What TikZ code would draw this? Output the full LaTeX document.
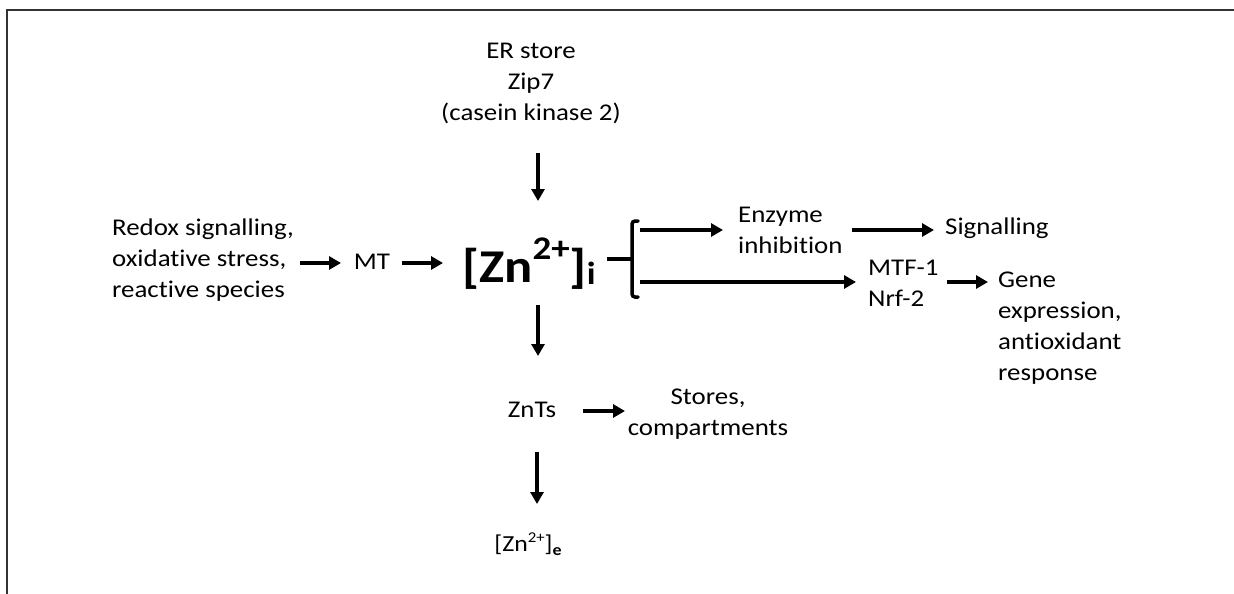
\documentclass[tikz,border=0pt]{standalone}
\usepackage{fontspec}
\setmainfont{Carlito}[Ligatures={NoCommon},FakeStretch=1.12]
\usetikzlibrary{arrows.meta}
\begin{document}
\begin{tikzpicture}[x=1pt,y=-1pt,
  txt/.style={inner sep=0pt,font=\fontsize{24}{31}\selectfont},
  arr/.style={line width=4pt,-{Triangle[length=12pt,width=13pt]}},
  brk/.style={line width=3.5pt,line cap=round,rounded corners=3pt}]
\useasboundingbox (0,0) rectangle (1234,594);
\draw[line width=2pt,black!80] (7,594) -- (7,10) -- (1234,10);

\node[txt,align=center] (er) at (531,83) {ER store\\Zip7\\(casein kinase 2)};
\node[inner sep=0pt,anchor=base west,font=\fontsize{47}{50}\selectfont\bfseries] (zn) at (462,282)
  {[Zn\raisebox{23pt}{\fontsize{33}{33}\selectfont 2+}]\raisebox{-2pt}{\fontsize{32}{32}\selectfont i}};
\node[txt,align=left,anchor=west] (redox) at (112,260) {Redox signalling,\\oxidative stress,\\reactive species};
\node[txt] (mt) at (372,262) {MT};
\node[txt,align=left,anchor=west] (enz) at (738,230) {Enzyme\\inhibition};
\node[txt,anchor=west] (sig) at (945,228) {Signalling};
\node[txt,align=left,anchor=west] (mtf) at (868,283) {MTF-1\\Nrf-2};
\node[txt,align=left,anchor=west] (gene) at (998,328) {Gene\\expression,\\antioxidant\\response};
\node[txt] (znts) at (532,410) {ZnTs};
\node[txt,align=center] (stores) at (708,414) {Stores,\\compartments};
\node[inner sep=0pt,font=\fontsize{23}{28}\selectfont] (zne) at (528,544)
  {[Zn\raisebox{9pt}{\fontsize{15}{15}\selectfont 2+}]\raisebox{-4pt}{\fontsize{16}{16}\selectfont\bfseries e}};

% connector end points
\coordinate (erA) at (538,153); \coordinate (erB) at (538,201);
\coordinate (rA) at (300,263); \coordinate (rB) at (341,263);
\coordinate (mA) at (402,263); \coordinate (mB) at (443,263);
\coordinate (bT) at (638,221); \coordinate (bB) at (638,297);
\coordinate (st0) at (607,259); \coordinate (st1) at (632,259);
\coordinate (u0) at (640,230); \coordinate (u1) at (723,230);
\coordinate (l0) at (640,282); \coordinate (l1) at (856,282);
\coordinate (s0) at (852,230); \coordinate (s1) at (934,230);
\coordinate (g0) at (947,282); \coordinate (g1) at (988,282);
\coordinate (d0) at (538,305); \coordinate (d1) at (538,356);
\coordinate (t0) at (583,411); \coordinate (t1) at (625,411);
\coordinate (e0) at (537,452); \coordinate (e1) at (537,504);

\draw[arr] (erA) -- (erB);
\draw[arr] (rA) -- (rB);
\draw[arr] (mA) -- (mB);
\draw[brk] (bT) -- (632,221) -- (632,297) -- (bB);
\draw[line width=3.5pt] (st0) -- (st1);
\draw[arr] (u0) -- (u1);
\draw[arr] (l0) -- (l1);
\draw[arr] (s0) -- (s1);
\draw[arr] (g0) -- (g1);
\draw[arr] (d0) -- (d1);
\draw[arr] (t0) -- (t1);
\draw[arr] (e0) -- (e1);
\end{tikzpicture}
\end{document}
